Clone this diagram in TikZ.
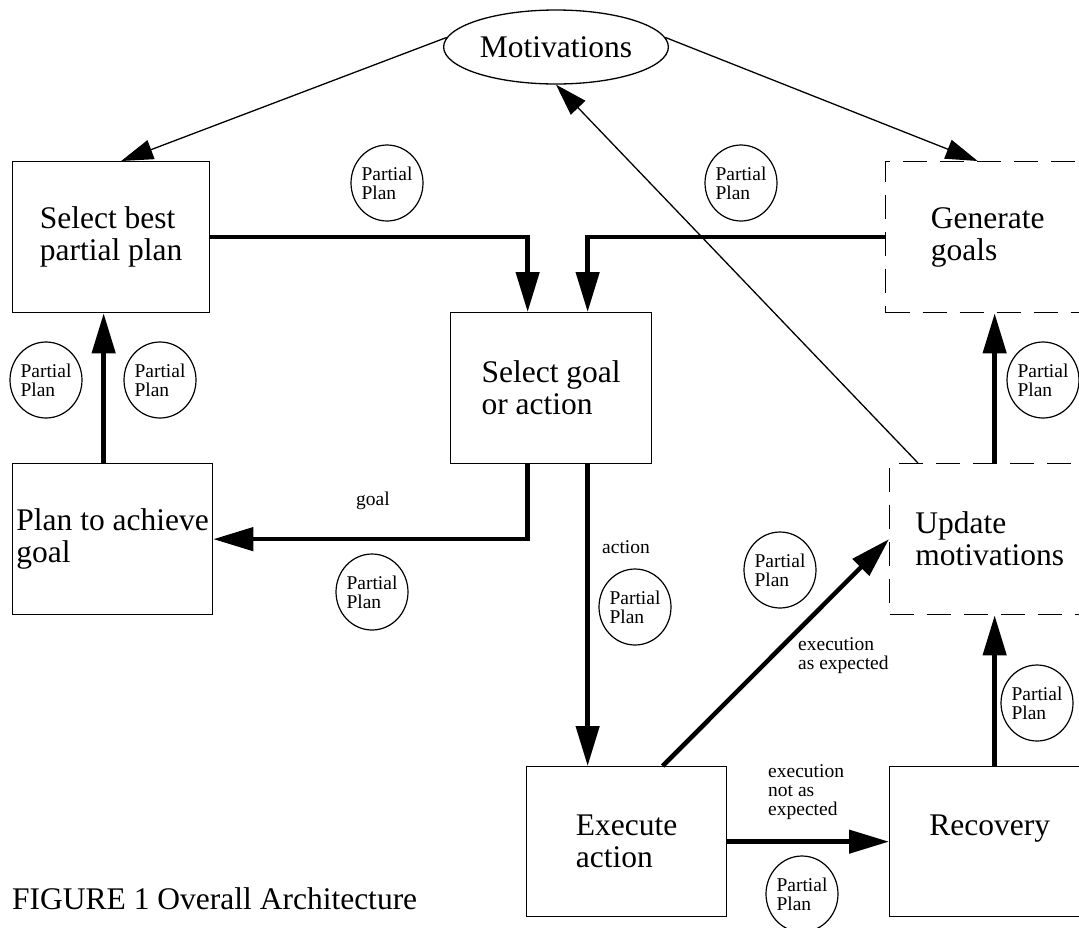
\documentclass[tikz,border=0pt]{standalone}
\usepackage{fontspec}
\setmainfont{Liberation Serif}
\usepackage{tikz}
\usetikzlibrary{arrows.meta, shapes.geometric, calc}

\tikzset{
  box/.style={draw, line width=1.3pt, anchor=north west, align=left,
    minimum height=151pt, font=\fontsize{31.5}{32}\selectfont},
  dbox/.style={box, dash pattern=on 24pt off 13pt},
  pp/.style={draw, ellipse, line width=1.2pt, minimum width=66pt, minimum height=76pt,
    inner sep=0pt, align=left, font=\fontsize{19.5}{19}\selectfont},
  lbl/.style={align=left, inner sep=0pt, font=\fontsize{19.5}{19}\selectfont},
  flow/.style={line width=4.5pt, -{Triangle[length=40pt,width=23pt]}},
  link/.style={line width=1.3pt, -{Triangle[length=32pt,width=20pt]}},
}

\begin{document}
\begin{tikzpicture}[x=1pt, y=-1pt]
    \useasboundingbox (0,0) rectangle (1079,927);
    \begin{scope}
        \clip (0,0) rectangle (1079,927);
        \node[draw, ellipse, line width=1.3pt, minimum width=212pt, minimum height=74pt,
          font=\fontsize{31.5}{32}\selectfont] (mot) at (556,47) {Motivations};
        % boxes
        \node[box, minimum width=197pt] (sbp) at (12,161) {Select best\\partial plan};
        \node[box, minimum width=200pt] (pta) at (12,463) {Plan to achieve\\goal};
        \node[box, minimum width=201pt] (sga) at (450,312) {Select goal\\or action};
        \node[box, minimum width=200pt, minimum height=150pt] (exe) at (526,766) {Execute\\action};
        \node[dbox, minimum width=204pt] (gen) at (885,161) {Generate\\goals};
        \node[dbox, minimum width=200pt] (upd) at (889,463) {Update\\motivations};
        \node[box, minimum width=200pt, minimum height=150pt] (rec) at (889,766) {Recovery\\\mbox{}};
        % partial plans
        \node[pp] (pp1) at (387,183) {Partial\\Plan};
        \node[pp] (pp2) at (741,183) {Partial\\Plan};
        \node[pp] (pp3) at (46,380) {Partial\\Plan};
        \node[pp] (pp4) at (160,380) {Partial\\Plan};
        \node[pp] (pp5) at (372,592) {Partial\\Plan};
        \node[pp] (pp6) at (635,607) {Partial\\Plan};
        \node[pp] (pp7) at (780,570) {Partial\\Plan};
        \node[pp] (pp8) at (1043,380) {Partial\\Plan};
        \node[pp] (pp9) at (1037,703) {Partial\\Plan};
        \node[pp] (pp10) at (802,894) {Partial\\Plan};
        % thin links to and from motivations
        \draw[link] (mot.175) -- ([xshift=10pt]sbp.north);
        \draw[link] (mot.5) -- ([xshift=-10pt]gen.north);
        \draw[link] ([xshift=29pt]upd.north west) -- (mot.south);
        % thick flow
        \coordinate (sga-l) at ([xshift=-23.5pt]sga.north);
        \coordinate (sga-r) at ([xshift=36.5pt]sga.north);
        \coordinate (pta-up) at ([xshift=-9pt]pta.north);
        \coordinate (upd-up) at ([xshift=5pt]upd.north);
        \draw[flow] (sbp.east) -| (sga-l);
        \draw[flow] (gen.west) -| (sga-r);
        \draw[flow] (pta-up) -- (pta-up |- sbp.south);
        \draw[flow] (sga-l |- sga.south) |- (pta.east);
        \draw[flow] (sga-r |- sga.south) -- (sga-r |- exe.north);
        \draw[flow] ([xshift=36pt]exe.north) -- (upd.west);
        \draw[flow] (exe.east) -- (rec.west);
        \draw[flow] (upd-up |- rec.north) -- (upd-up |- upd.south);
        \draw[flow] (upd-up) -- (upd-up |- gen.south);
        % labels
        \node[lbl] (l-goal) at (373,501) {goal};
        \node[lbl, anchor=west] (l-act) at (602,547) {action};
        \node[lbl, anchor=west] (l-ok) at (798,656) {execution\\as expected};
        \node[lbl, anchor=west] (l-fail) at (768,792) {execution\\not as\\expected};
        \node[anchor=base west, inner sep=0pt, font=\fontsize{31.5}{32}\selectfont] (cap) at (12,909)
          {FIGURE 1 Overall Architecture};
    \end{scope}
\end{tikzpicture}
\end{document}
